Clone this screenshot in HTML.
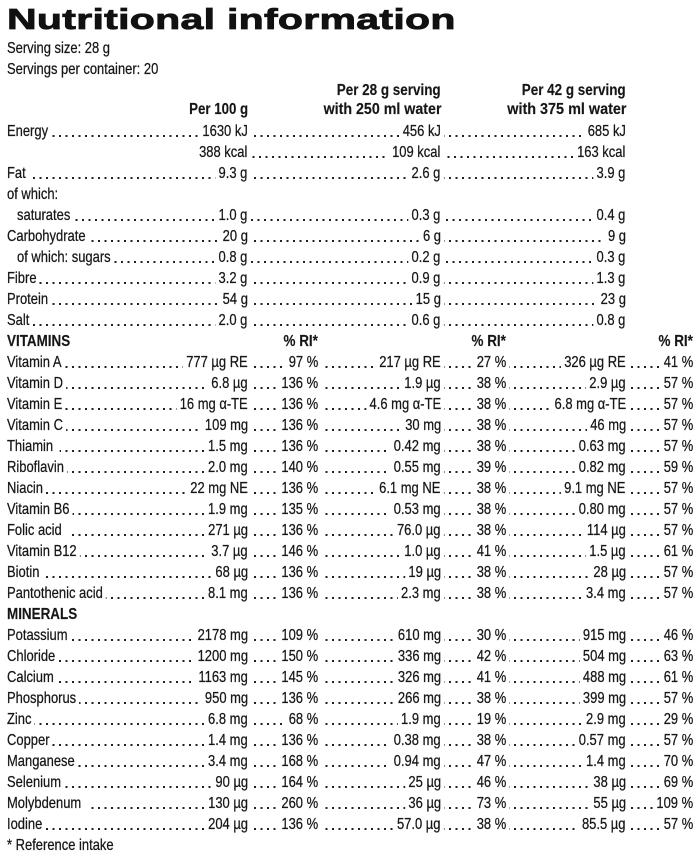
<!DOCTYPE html>
<html>
<head>
<meta charset="utf-8">
<style>
html,body{margin:0;padding:0;background:#fff;}
body{width:700px;height:862px;position:relative;overflow:hidden;}
.title{position:absolute;left:7px;top:6px;font:bold 29px/29px "Liberation Sans",sans-serif;color:#111;white-space:nowrap;transform:scaleX(1.415);transform-origin:0 0;-webkit-text-stroke:0.8px #111;letter-spacing:0.2px;}
.row{position:absolute;left:0;width:700px;height:21px;}
.d{position:absolute;height:2px;top:11.5px;background:repeating-linear-gradient(to right,#222 0 2px,transparent 2px 6.5px);}
.t{position:absolute;top:0;font:16px/16px "Liberation Sans",sans-serif;color:#161616;white-space:nowrap;background:#fff;-webkit-text-stroke:0.25px #161616;}
.l{left:7px;padding-right:4px;transform:scaleX(.81);transform-origin:0 0;}
.li{left:17px;padding-right:4px;transform:scaleX(.81);transform-origin:0 0;}
.r{padding:0 4px;transform:scaleX(.81);transform-origin:100% 0;}
.b{font-weight:bold;background:transparent;-webkit-text-stroke:0.15px #161616;}
.rb{transform:scaleX(.84);transform-origin:100% 0;}
.lb{left:7px;transform:scaleX(.84);transform-origin:0 0;}
.c1{right:449px;}
.p1{right:379px;}
.c2{right:256px;}
.p2{right:191px;}
.c3{right:71px;}
.p3{right:4px;}
.h1{right:452px;}
.h2{right:259px;}
.h3{right:74px;}
.ph1{right:382px;}
.ph2{right:194px;}
.ph3{right:7px;}
</style>
</head>
<body>
<div class="title">Nutritional information</div>

<div class="row" style="top:41px"><span class="t l">Serving size: 28 g</span></div>
<div class="row" style="top:62px"><span class="t l">Servings per container: 20</span></div>

<div class="row" style="top:82.5px">
<span class="t b h2" style="transform:scaleX(.84);transform-origin:100% 0;">Per 28 g serving</span>
<span class="t b h3" style="transform:scaleX(.84);transform-origin:100% 0;">Per 42 g serving</span>
</div>
<div class="row" style="top:101.5px">
<span class="t b h1" style="transform:scaleX(.83);transform-origin:100% 0;">Per 100 g</span>
<span class="t b h2" style="transform:scaleX(.89);transform-origin:100% 0;">with 250 ml water</span>
<span class="t b h3" style="transform:scaleX(.9);transform-origin:100% 0;">with 375 ml water</span>
</div>

<div class="row" style="top:123.5px"><div class="d" style="left:7px;width:617px"></div>
<span class="t l">Energy</span><span class="t r c1">1630 kJ</span><span class="t r c2">456 kJ</span><span class="t r c3">685 kJ</span></div>
<div class="row" style="top:144.5px"><div class="d" style="left:246px;width:378px"></div>
<span class="t r c1">388 kcal</span><span class="t r c2">109 kcal</span><span class="t r c3">163 kcal</span></div>
<div class="row" style="top:165.5px"><div class="d" style="left:7px;width:617px"></div>
<span class="t l">Fat</span><span class="t r c1">9.3 g</span><span class="t r c2">2.6 g</span><span class="t r c3">3.9 g</span></div>
<div class="row" style="top:186.5px"><span class="t l">of which:</span></div>
<div class="row" style="top:207.5px"><div class="d" style="left:17px;width:607px"></div>
<span class="t li">saturates</span><span class="t r c1">1.0 g</span><span class="t r c2">0.3 g</span><span class="t r c3">0.4 g</span></div>
<div class="row" style="top:228.5px"><div class="d" style="left:7px;width:617px"></div>
<span class="t l">Carbohydrate</span><span class="t r c1">20 g</span><span class="t r c2">6 g</span><span class="t r c3">9 g</span></div>
<div class="row" style="top:249.5px"><div class="d" style="left:17px;width:607px"></div>
<span class="t li">of which: sugars</span><span class="t r c1">0.8 g</span><span class="t r c2">0.2 g</span><span class="t r c3">0.3 g</span></div>
<div class="row" style="top:270.5px"><div class="d" style="left:7px;width:617px"></div>
<span class="t l">Fibre</span><span class="t r c1">3.2 g</span><span class="t r c2">0.9 g</span><span class="t r c3">1.3 g</span></div>
<div class="row" style="top:291.5px"><div class="d" style="left:7px;width:617px"></div>
<span class="t l">Protein</span><span class="t r c1">54 g</span><span class="t r c2">15 g</span><span class="t r c3">23 g</span></div>
<div class="row" style="top:312.5px"><div class="d" style="left:7px;width:617px"></div>
<span class="t l">Salt</span><span class="t r c1">2.0 g</span><span class="t r c2">0.6 g</span><span class="t r c3">0.8 g</span></div>

<div class="row" style="top:333.5px">
<span class="t b lb">VITAMINS</span>
<span class="t b rb ph1">% RI*</span><span class="t b rb ph2">% RI*</span><span class="t b rb ph3">% RI*</span></div>

<div class="row" style="top:354.5px"><div class="d" style="left:7px;width:683px"></div>
<span class="t l">Vitamin A</span><span class="t r c1">777 µg RE</span><span class="t r p1">97 %</span><span class="t r c2">217 µg RE</span><span class="t r p2">27 %</span><span class="t r c3">326 µg RE</span><span class="t r p3">41 %</span></div>
<div class="row" style="top:375.5px"><div class="d" style="left:7px;width:683px"></div>
<span class="t l">Vitamin D</span><span class="t r c1">6.8 µg</span><span class="t r p1">136 %</span><span class="t r c2">1.9 µg</span><span class="t r p2">38 %</span><span class="t r c3">2.9 µg</span><span class="t r p3">57 %</span></div>
<div class="row" style="top:396.5px"><div class="d" style="left:7px;width:683px"></div>
<span class="t l">Vitamin E</span><span class="t r c1">16 mg α-TE</span><span class="t r p1">136 %</span><span class="t r c2">4.6 mg α-TE</span><span class="t r p2">38 %</span><span class="t r c3">6.8 mg α-TE</span><span class="t r p3">57 %</span></div>
<div class="row" style="top:417.5px"><div class="d" style="left:7px;width:683px"></div>
<span class="t l">Vitamin C</span><span class="t r c1">109 mg</span><span class="t r p1">136 %</span><span class="t r c2">30 mg</span><span class="t r p2">38 %</span><span class="t r c3">46 mg</span><span class="t r p3">57 %</span></div>
<div class="row" style="top:438.5px"><div class="d" style="left:7px;width:683px"></div>
<span class="t l">Thiamin&nbsp;</span><span class="t r c1">1.5 mg</span><span class="t r p1">136 %</span><span class="t r c2">0.42 mg</span><span class="t r p2">38 %</span><span class="t r c3">0.63 mg</span><span class="t r p3">57 %</span></div>
<div class="row" style="top:459.5px"><div class="d" style="left:7px;width:683px"></div>
<span class="t l">Riboflavin</span><span class="t r c1">2.0 mg</span><span class="t r p1">140 %</span><span class="t r c2">0.55 mg</span><span class="t r p2">39 %</span><span class="t r c3">0.82 mg</span><span class="t r p3">59 %</span></div>
<div class="row" style="top:480.5px"><div class="d" style="left:7px;width:683px"></div>
<span class="t l">Niacin</span><span class="t r c1">22 mg NE</span><span class="t r p1">136 %</span><span class="t r c2">6.1 mg NE</span><span class="t r p2">38 %</span><span class="t r c3">9.1 mg NE</span><span class="t r p3">57 %</span></div>
<div class="row" style="top:501.5px"><div class="d" style="left:7px;width:683px"></div>
<span class="t l">Vitamin B6</span><span class="t r c1">1.9 mg</span><span class="t r p1">135 %</span><span class="t r c2">0.53 mg</span><span class="t r p2">38 %</span><span class="t r c3">0.80 mg</span><span class="t r p3">57 %</span></div>
<div class="row" style="top:522.5px"><div class="d" style="left:7px;width:683px"></div>
<span class="t l">Folic acid&nbsp;</span><span class="t r c1">271 µg</span><span class="t r p1">136 %</span><span class="t r c2">76.0 µg</span><span class="t r p2">38 %</span><span class="t r c3">114 µg</span><span class="t r p3">57 %</span></div>
<div class="row" style="top:543.5px"><div class="d" style="left:7px;width:683px"></div>
<span class="t l">Vitamin B12</span><span class="t r c1">3.7 µg</span><span class="t r p1">146 %</span><span class="t r c2">1.0 µg</span><span class="t r p2">41 %</span><span class="t r c3">1.5 µg</span><span class="t r p3">61 %</span></div>
<div class="row" style="top:564.5px"><div class="d" style="left:7px;width:683px"></div>
<span class="t l">Biotin</span><span class="t r c1">68 µg</span><span class="t r p1">136 %</span><span class="t r c2">19 µg</span><span class="t r p2">38 %</span><span class="t r c3">28 µg</span><span class="t r p3">57 %</span></div>
<div class="row" style="top:585.5px"><div class="d" style="left:7px;width:683px"></div>
<span class="t l">Pantothenic acid</span><span class="t r c1">8.1 mg</span><span class="t r p1">136 %</span><span class="t r c2">2.3 mg</span><span class="t r p2">38 %</span><span class="t r c3">3.4 mg</span><span class="t r p3">57 %</span></div>

<div class="row" style="top:606.5px"><span class="t b lb">MINERALS</span></div>

<div class="row" style="top:627.5px"><div class="d" style="left:7px;width:683px"></div>
<span class="t l">Potassium</span><span class="t r c1">2178 mg</span><span class="t r p1">109 %</span><span class="t r c2">610 mg</span><span class="t r p2">30 %</span><span class="t r c3">915 mg</span><span class="t r p3">46 %</span></div>
<div class="row" style="top:648.5px"><div class="d" style="left:7px;width:683px"></div>
<span class="t l">Chloride</span><span class="t r c1">1200 mg</span><span class="t r p1">150 %</span><span class="t r c2">336 mg</span><span class="t r p2">42 %</span><span class="t r c3">504 mg</span><span class="t r p3">63 %</span></div>
<div class="row" style="top:669.5px"><div class="d" style="left:7px;width:683px"></div>
<span class="t l">Calcium</span><span class="t r c1">1163 mg</span><span class="t r p1">145 %</span><span class="t r c2">326 mg</span><span class="t r p2">41 %</span><span class="t r c3">488 mg</span><span class="t r p3">61 %</span></div>
<div class="row" style="top:690.5px"><div class="d" style="left:7px;width:683px"></div>
<span class="t l">Phosphorus</span><span class="t r c1">950 mg</span><span class="t r p1">136 %</span><span class="t r c2">266 mg</span><span class="t r p2">38 %</span><span class="t r c3">399 mg</span><span class="t r p3">57 %</span></div>
<div class="row" style="top:711.5px"><div class="d" style="left:7px;width:683px"></div>
<span class="t l">Zinc</span><span class="t r c1">6.8 mg</span><span class="t r p1">68 %</span><span class="t r c2">1.9 mg</span><span class="t r p2">19 %</span><span class="t r c3">2.9 mg</span><span class="t r p3">29 %</span></div>
<div class="row" style="top:732.5px"><div class="d" style="left:7px;width:683px"></div>
<span class="t l">Copper</span><span class="t r c1">1.4 mg</span><span class="t r p1">136 %</span><span class="t r c2">0.38 mg</span><span class="t r p2">38 %</span><span class="t r c3">0.57 mg</span><span class="t r p3">57 %</span></div>
<div class="row" style="top:753.5px"><div class="d" style="left:7px;width:683px"></div>
<span class="t l">Manganese</span><span class="t r c1">3.4 mg</span><span class="t r p1">168 %</span><span class="t r c2">0.94 mg</span><span class="t r p2">47 %</span><span class="t r c3">1.4 mg</span><span class="t r p3">70 %</span></div>
<div class="row" style="top:774.5px"><div class="d" style="left:7px;width:683px"></div>
<span class="t l">Selenium</span><span class="t r c1">90 µg</span><span class="t r p1">164 %</span><span class="t r c2">25 µg</span><span class="t r p2">46 %</span><span class="t r c3">38 µg</span><span class="t r p3">69 %</span></div>
<div class="row" style="top:795.5px"><div class="d" style="left:7px;width:683px"></div>
<span class="t l">Molybdenum&nbsp;</span><span class="t r c1">130 µg</span><span class="t r p1">260 %</span><span class="t r c2">36 µg</span><span class="t r p2">73 %</span><span class="t r c3">55 µg</span><span class="t r p3">109 %</span></div>
<div class="row" style="top:816.5px"><div class="d" style="left:7px;width:683px"></div>
<span class="t l">Iodine</span><span class="t r c1">204 µg</span><span class="t r p1">136 %</span><span class="t r c2">57.0 µg</span><span class="t r p2">38 %</span><span class="t r c3">85.5 µg</span><span class="t r p3">57 %</span></div>

<div class="row" style="top:837.5px"><span class="t l">* Reference intake</span></div>
</body>
</html>
